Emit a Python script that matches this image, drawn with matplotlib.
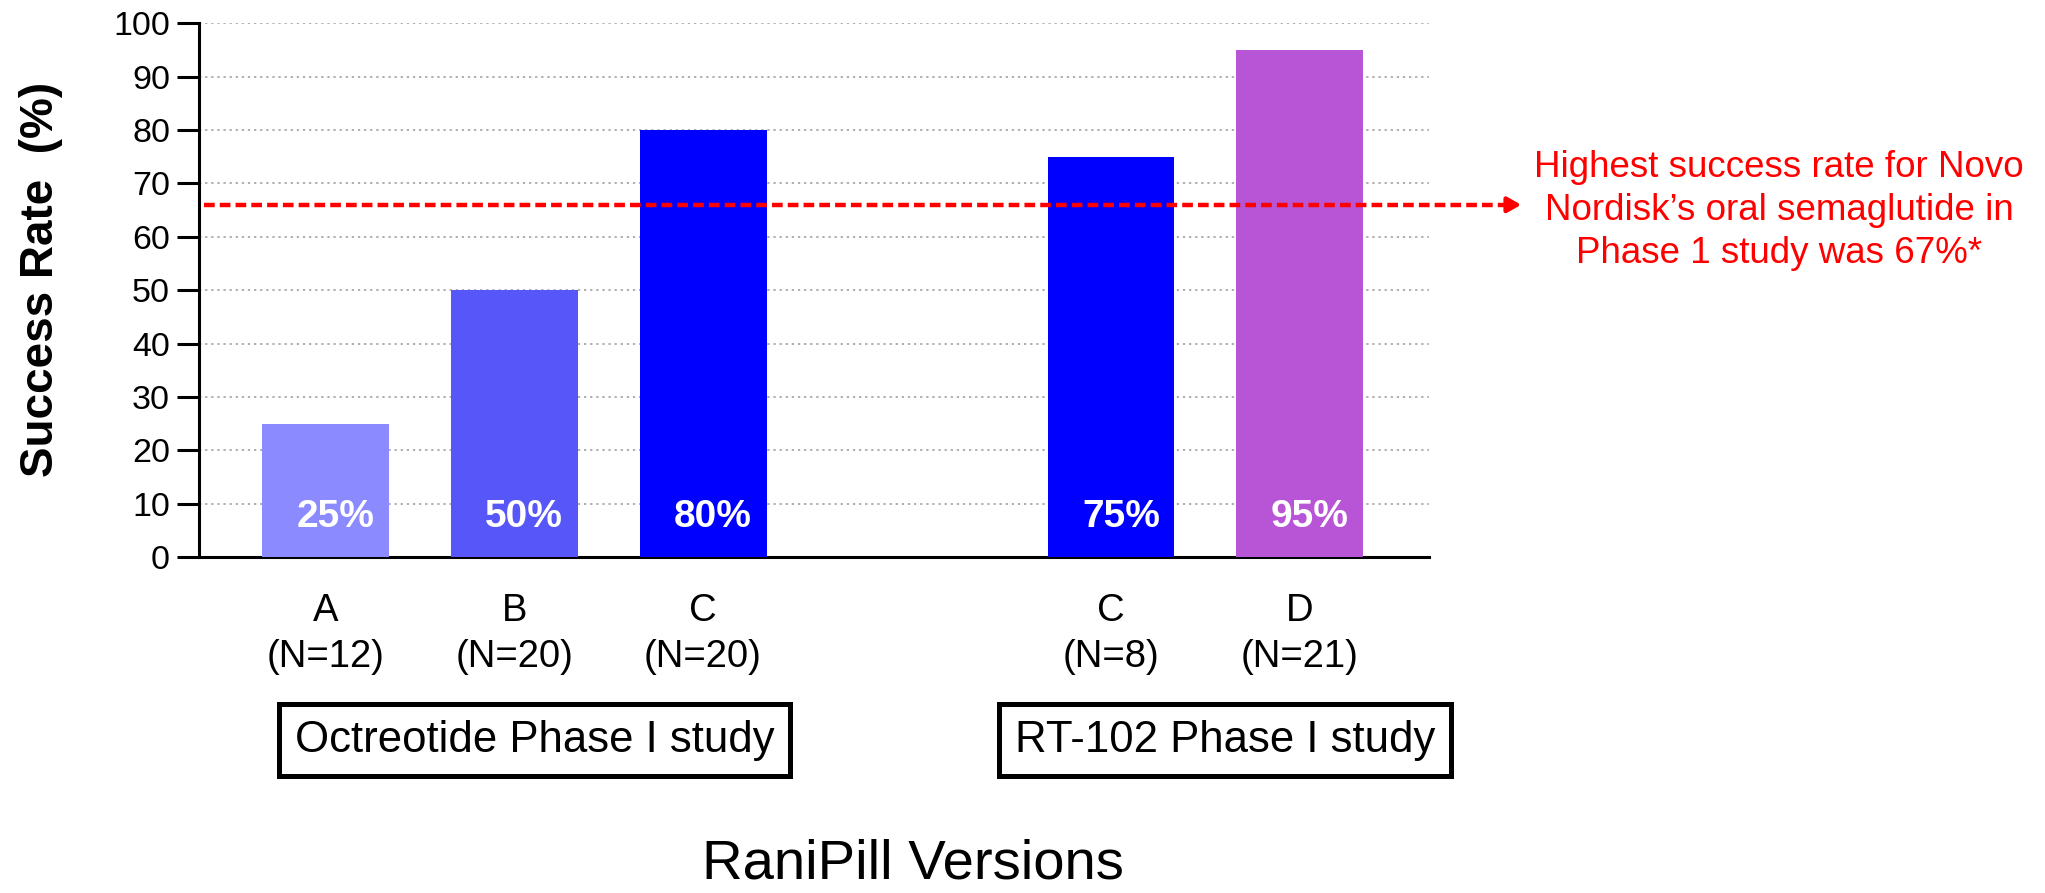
import matplotlib
matplotlib.use("Agg")
from matplotlib import pyplot as plt

plt.rcParams['font.family'] = ['Liberation Sans', 'DejaVu Sans']

# dados do grafico
versoes = ['A', 'B', 'C', 'C', 'D']
amostras = ['(N=12)', '(N=20)', '(N=20)', '(N=8)', '(N=21)']
taxa_sucesso = [25, 50, 80, 75, 95]
posicoes = [0, 1, 2, 4.16, 5.16]
cores = ['#8B8BFF', '#5757F9', '#0000FF', '#0000FF', '#B855D6']
estudos = ['Octreotide Phase I study', 'RT-102 Phase I study']
linha_semaglutide = 66
texto_semaglutide = "Highest success rate for Novo\nNordisk\u2019s oral semaglutide in\nPhase 1 study was 67%*"

fig = plt.figure(figsize=(20.45, 8.93), dpi=100)
ax = fig.add_axes([0.0973, 0.3762, 0.6015, 0.5977])

ax.bar(posicoes, taxa_sucesso, 0.672, color=cores, zorder=3)

for x, v in zip(posicoes, taxa_sucesso):
    ax.text(x + 0.053, 5.6, f"{v}%", color='white', fontsize=28,
            fontweight='bold', ha='center', va='baseline', zorder=4)

trans = ax.get_xaxis_transform()
for x, v, n in zip(posicoes, versoes, amostras):
    ax.text(x, -0.1199, v, transform=trans, fontsize=27.5,
            ha='center', va='baseline')
    ax.text(x, -0.2061, n, transform=trans, fontsize=27.5,
            ha='center', va='baseline')

ax.set_xlim(-0.669, 5.844)
ax.set_ylim(0, 100)
ax.set_yticks(range(0, 101, 10))
ax.set_xticks([])
ax.tick_params(axis='y', labelsize=24.5, length=15.8, width=2.2, pad=5)
for lado in ['top', 'right']:
    ax.spines[lado].set_visible(False)
ax.spines['left'].set_linewidth(2.2)
ax.spines['bottom'].set_linewidth(2.2)
ax.yaxis.grid(True, linestyle=(0, (1.5, 2.5)), color='#9a9a9a', linewidth=1.1, zorder=0)
ax.set_axisbelow(True)

# linha tracejada vermelha com seta
ax.plot([-0.643, 6.27], [linha_semaglutide, linha_semaglutide], color='red',
        linewidth=3.2, linestyle=(0, (2.4, 1.15)), clip_on=False, zorder=5)
ax.annotate('', xy=(6.347, linha_semaglutide), xytext=(6.25, linha_semaglutide),
            arrowprops=dict(arrowstyle='-|>,head_length=0.8,head_width=0.45',
                            color='red', linewidth=3.2),
            annotation_clip=False)

fig.text(0.870, 0.764, texto_semaglutide, color='red', fontsize=26.5,
         ha='center', va='center', multialignment='center', linespacing=1.3)

fig.text(0.02, 0.6876, "Success Rate  (%)", rotation=90, fontsize=33,
         fontweight='bold', ha='center', va='center')

for xc, estudo in zip([0.2614, 0.599], estudos):
    fig.text(xc, 0.1713, estudo, fontsize=31.5, ha='center', va='center',
             bbox=dict(boxstyle='square,pad=0.36', facecolor='white',
                       edgecolor='black', linewidth=3.6))

fig.text(0.4465, 0.0314, "RaniPill Versions", fontsize=40.5,
         ha='center', va='center')

plt.savefig('out.png', dpi=100)
